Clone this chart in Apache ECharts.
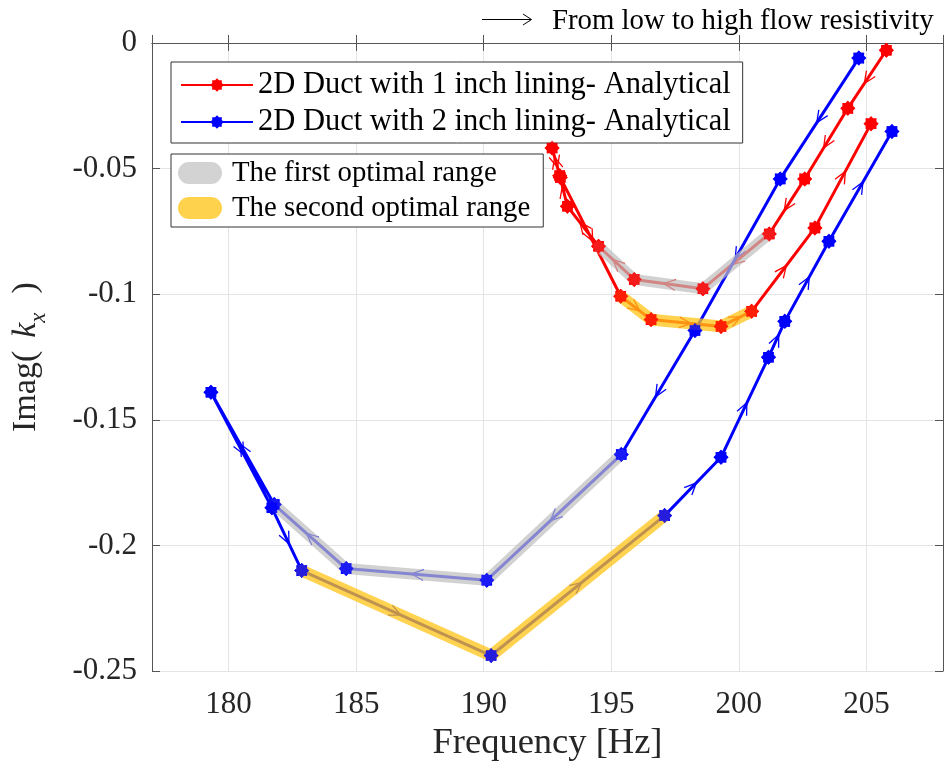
<!DOCTYPE html>
<html><head><meta charset="utf-8">
<script src="https://cdn.jsdelivr.net/npm/echarts@6/dist/echarts.min.js"></script>
<style>html,body{margin:0;padding:0;background:#fff}#c{width:946px;height:767px}</style>
</head><body><div id="c"></div>
<script>
// ---------- data ----------
const redName = '2D Duct with 1 inch lining- Analytical';
const blueName = '2D Duct with 2 inch lining- Analytical';
const firstName = 'The first optimal range';
const secondName = 'The second optimal range';

const redFreq = [205.78, 204.27, 202.58, 201.19, 198.59, 195.90, 194.50, 193.28, 192.98, 192.68, 193.00, 195.37, 196.56, 199.30, 200.50, 202.98, 205.18];
const redImag = [-0.0029, -0.0260, -0.0541, -0.0760, -0.0978, -0.0941, -0.0809, -0.0650, -0.0528, -0.0418, -0.0535, -0.1008, -0.1101, -0.1128, -0.1068, -0.0736, -0.0321];

const blueFreq = [204.70, 201.62, 198.28, 195.39, 190.12, 184.61, 181.79, 179.31, 181.70, 182.87, 190.29, 197.09, 199.30, 201.16, 201.80, 203.53, 206.00];
const blueImag = [-0.0060, -0.0541, -0.1144, -0.1638, -0.2138, -0.2092, -0.1837, -0.1390, -0.1850, -0.2100, -0.2438, -0.1881, -0.1649, -0.1251, -0.1108, -0.0789, -0.0352];

// optimal ranges as [first index, last index] along each curve
const redFirstRange = [3, 6];
const redSecondRange = [11, 14];
const blueFirstRange = [3, 6];
const blueSecondRange = [9, 11];

const xTicks = [180, 185, 190, 195, 200, 205];
const xTickLabels = ['180', '185', '190', '195', '200', '205'];
const yTicks = [0, -0.05, -0.1, -0.15, -0.2, -0.25];
const yTickLabels = ['0', '-0.05', '-0.1', '-0.15', '-0.2', '-0.25'];

// ---------- helpers ----------
const FONT = 'Liberation Serif';
const pts = (fs, vs) => fs.map((f, i) => [f, vs[i]]);
const redData = pts(redFreq, redImag);
const blueData = pts(blueFreq, blueImag);
const segs = d => d.slice(0, -1).map((p, i) => [p[0], p[1], d[i + 1][0], d[i + 1][1]]);
const range = (d, r) => d.slice(r[0], r[1] + 1);

function starPath() {
  let s = 'path://';
  for (let k = 0; k < 16; k++) {
    const a = k * Math.PI / 8 - Math.PI / 2;
    const r = k % 2 === 0 ? 50 : 38;
    s += (k === 0 ? 'M' : 'L') + (50 + r * Math.cos(a)).toFixed(2) + ',' + (50 + r * Math.sin(a)).toFixed(2);
  }
  return s + 'Z';
}
const STAR = starPath();
const PILL = 'path://M11,0L33,0A11,11,0,0,1,33,22L11,22A11,11,0,0,1,11,0Z';

function lookup(ticks, labels) {
  return v => { const i = ticks.findIndex(t => Math.abs(t - v) < 1e-9); return i >= 0 ? labels[i] : ''; };
}

function arrowSeries(d, color) {
  return {
    type: 'custom', data: segs(d), encode: { x: [0, 2], y: [1, 3] }, z: 2, silent: true,
    renderItem: (params, api) => {
      const p0 = api.coord([api.value(0), api.value(1)]);
      const p1 = api.coord([api.value(2), api.value(3)]);
      const dx = p1[0] - p0[0], dy = p1[1] - p0[1];
      const L = Math.hypot(dx, dy);
      if (L < 20) return null;
      const ux = dx / L, uy = dy / L;
      const tx = (p0[0] + p1[0]) / 2 + ux * 5, ty = (p0[1] + p1[1]) / 2 + uy * 5;
      const a = 0.42, len = 13, c = Math.cos(a), s = Math.sin(a);
      const w1 = [tx - len * (ux * c - uy * s), ty - len * (uy * c + ux * s)];
      const w2 = [tx - len * (ux * c + uy * s), ty - len * (uy * c - ux * s)];
      return { type: 'polyline', shape: { points: [w1, [tx, ty], w2] }, style: { stroke: color, lineWidth: 1.3, fill: null } };
    }
  };
}

function curveSeries(name, d, color) {
  return {
    type: 'line', name, data: d, z: 2, silent: true,
    symbol: STAR, symbolSize: 15, showSymbol: true, showAllSymbol: true,
    lineStyle: { color, width: 3 }, itemStyle: { color },
    emphasis: { disabled: true }
  };
}
function markerSeries(d, color) {
  return { type: 'scatter', data: d, z: 5, silent: true, symbol: STAR, symbolSize: 15, itemStyle: { color } };
}
function bandSeries(name, d, color, legendColor, width, opacity) {
  return {
    type: 'line', name, data: d, z: 3, silent: true, symbol: 'none', showSymbol: false,
    lineStyle: { color, width, opacity, cap: 'round', join: 'round' },
    itemStyle: { color: legendColor }, emphasis: { disabled: true }
  };
}

const axisColor = '#555';
const chart = echarts.init(document.getElementById('c'));
chart.setOption({
  animation: false,
  backgroundColor: '#fff',
  grid: { left: 152, right: 2, top: 43, bottom: 95 },
  xAxis: [{
    type: 'value', position: 'bottom', min: 177, max: 208,
    name: 'Frequency [Hz]', nameLocation: 'middle', nameGap: 52,
    nameTextStyle: { fontFamily: FONT, fontSize: 36.5, color: '#262626' },
    axisLine: { show: true, lineStyle: { color: axisColor, width: 1 } },
    axisTick: { show: true, inside: true, length: 8, lineStyle: { color: axisColor } },
    axisLabel: { margin: 18, fontFamily: FONT, fontSize: 31, color: '#262626', formatter: lookup(xTicks, xTickLabels) },
    splitLine: { show: true, lineStyle: { color: '#e4e4e4', width: 1 } }
  }, {
    type: 'value', position: 'top', min: 177, max: 208,
    axisLine: { show: true, lineStyle: { color: axisColor, width: 1 } },
    axisTick: { show: true, inside: true, length: 8, lineStyle: { color: axisColor } },
    axisLabel: { show: false }, splitLine: { show: false }
  }],
  yAxis: [{
    type: 'value', position: 'left', min: -0.25, max: 0, interval: 0.05,
    name: '{a|Imag(}{g|  }{k|k}{s|x}{h|  }{a|)}', nameLocation: 'middle', nameGap: 102, nameRotate: 90,
    nameTextStyle: {
      color: '#262626',
      rich: {
        a: { fontFamily: FONT, fontSize: 34, lineHeight: 48, verticalAlign: 'middle', color: '#262626' },
        g: { fontFamily: FONT, fontSize: 34, lineHeight: 48, width: 13, verticalAlign: 'middle' },
        h: { fontFamily: FONT, fontSize: 34, lineHeight: 48, width: 19, verticalAlign: 'middle' },
        k: { fontFamily: FONT, fontSize: 34, fontStyle: 'italic', lineHeight: 48, verticalAlign: 'middle', color: '#262626' },
        s: { fontFamily: FONT, fontSize: 23, fontStyle: 'italic', lineHeight: 24, verticalAlign: 'bottom', color: '#262626' }
      }
    },
    axisLine: { show: true, lineStyle: { color: axisColor, width: 1 } },
    axisTick: { show: true, inside: true, length: 8, lineStyle: { color: axisColor } },
    axisLabel: { margin: 15, fontFamily: FONT, fontSize: 31, color: '#262626', formatter: lookup(yTicks, yTickLabels) },
    splitLine: { show: true, lineStyle: { color: '#e4e4e4', width: 1 } }
  }, {
    type: 'value', position: 'right', min: -0.25, max: 0, interval: 0.05,
    axisLine: { show: true, lineStyle: { color: axisColor, width: 1 } },
    axisTick: { show: true, inside: true, length: 8, lineStyle: { color: axisColor } },
    axisLabel: { show: false }, splitLine: { show: false }
  }],
  legend: [{
    orient: 'vertical', left: 171, top: 62, padding: [7, 12, 5, 9], itemGap: 5,
    itemWidth: 72, itemHeight: 17, selectedMode: false,
    borderColor: '#333', borderWidth: 1, backgroundColor: '#fff',
    textStyle: { fontFamily: FONT, fontSize: 30.5, color: '#000', lineHeight: 32 },
    data: [redName, blueName]
  }, {
    orient: 'vertical', left: 171, top: 154, padding: [4, 13, 4, 7], itemGap: 5,
    itemWidth: 44, itemHeight: 22, selectedMode: false,
    borderColor: '#333', borderWidth: 1, backgroundColor: '#fff',
    textStyle: { fontFamily: FONT, fontSize: 28.8, color: '#000', lineHeight: 30, padding: [0, 0, 0, 5] },
    data: [
      { name: firstName, icon: PILL, itemStyle: { color: '#D3D3D3', borderWidth: 0 } },
      { name: secondName, icon: PILL, itemStyle: { color: '#FFD24D', borderWidth: 0 } }
    ]
  }],
  graphic: [
    { type: 'line', shape: { x1: 482, y1: 19.5, x2: 531, y2: 19.5 }, style: { stroke: '#000', lineWidth: 1 } },
    { type: 'polyline', shape: { points: [[523, 14], [531.5, 19.5], [523, 25]] }, style: { stroke: '#000', lineWidth: 1, fill: null } },
    { type: 'text', style: { x: 552, y: 21, text: 'From low to high flow resistivity', font: '28.8px "Liberation Serif"', fill: '#000', verticalAlign: 'middle', align: 'left' } }
  ],
  series: [
    curveSeries(redName, redData, '#FF0000'),
    curveSeries(blueName, blueData, '#0000FF'),
    arrowSeries(redData, '#FF0000'),
    arrowSeries(blueData, '#0000FF'),
    bandSeries(firstName, range(redData, redFirstRange), '#bdbdbd', '#D3D3D3', 11, 0.7),
    bandSeries(firstName, range(blueData, blueFirstRange), '#bdbdbd', '#D3D3D3', 11, 0.7),
    bandSeries(secondName, range(redData, redSecondRange), '#FFC316', '#FFD24D', 12, 0.75),
    bandSeries(secondName, range(blueData, blueSecondRange), '#FFC316', '#FFD24D', 12, 0.75),
    markerSeries(redData, '#FF0000'),
    markerSeries(blueData, '#0000FF')
  ]
});
</script></body></html>
